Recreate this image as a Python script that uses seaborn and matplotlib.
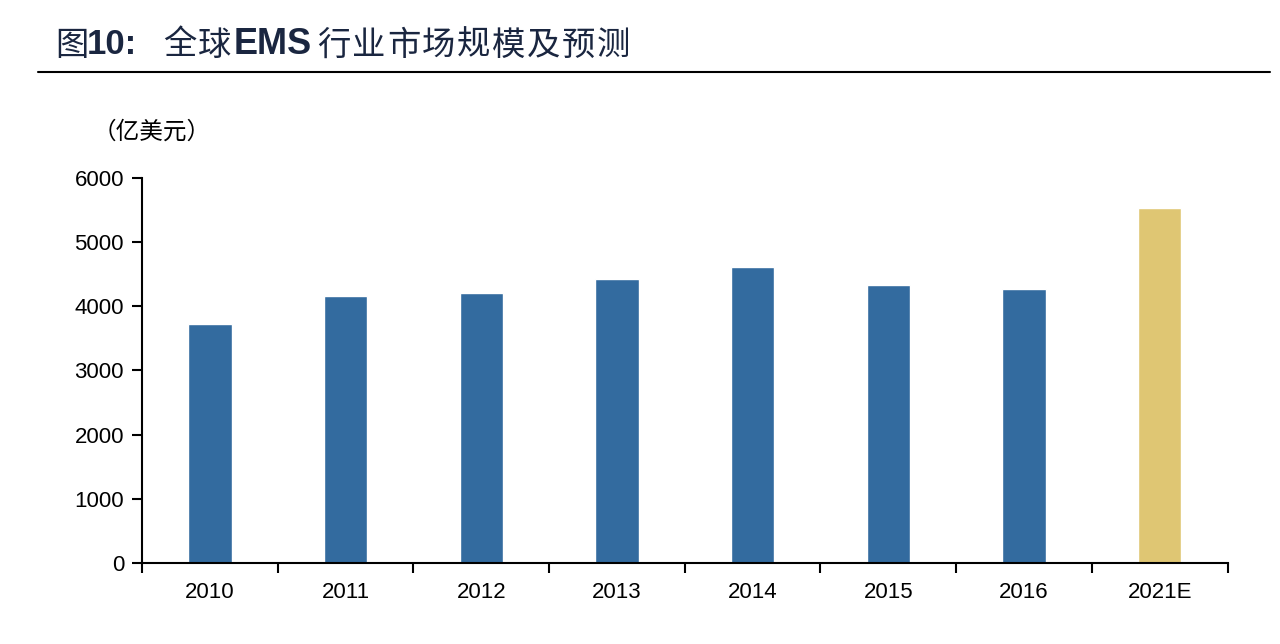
import matplotlib
matplotlib.use('Agg')
import matplotlib.pyplot as plt
import seaborn as sns
import pandas as pd
import numpy as np

years = ['2010', '2011', '2012', '2013', '2014', '2015', '2016', '2021E']
values = [3720, 4160, 4210, 4420, 4620, 4330, 4270, 5530]
kind = ['actual'] * 7 + ['forecast']

sns.set_theme(style='white')
plt.rcParams['font.family'] = ['Liberation Sans', 'Noto Sans CJK SC', 'DejaVu Sans']

df = pd.DataFrame({'year': years, 'value': values, 'kind': kind})

W, H = 1280, 644
fig = plt.figure(figsize=(W / 100, H / 100), dpi=100)
ax = fig.add_axes([0.111, 0.1258, 0.848, 0.5978])

sns.barplot(data=df, x='year', y='value', hue='kind',
            palette={'actual': '#336b9f', 'forecast': '#dfc673'},
            width=0.32, dodge=False, legend=False, ax=ax, saturation=1)

ax.set_ylim(0, 6000)
ax.set_xlim(-0.5, len(years) - 0.5)
ax.set_yticks(range(0, 6001, 1000))
ax.set_xlabel('')
ax.set_ylabel('')
for s in ['top', 'right']:
    ax.spines[s].set_visible(False)
for s in ['left', 'bottom']:
    ax.spines[s].set_color('black')
    ax.spines[s].set_linewidth(1.5)

ax.tick_params(axis='y', which='major', direction='out', length=7, width=1.5,
               color='black', labelsize=16, pad=6, left=True, labelcolor='black')
ax.tick_params(axis='x', which='major', length=0, labelsize=16, pad=14, labelcolor='black')
ax.set_xticks(np.arange(-0.5, len(years), 1.0), minor=True)
ax.tick_params(axis='x', which='minor', direction='out', length=7, width=1.5,
               color='black', bottom=True)

# title, placed piece by piece (CJK regular with wide spacing, latin bold)
navy = '#1a2640'
ty = 1 - 45 / H


def put(text, x0, pitch, size):
    for i, ch in enumerate(text):
        fig.text((x0 + i * pitch) / W, ty, ch, fontsize=size, family=['Noto Sans CJK SC'],
                 color=navy, va='center', ha='left')


put('图', 55, 35, 24)
fig.text(87 / W, ty, '10:', fontsize=25, fontweight='bold', family=['Liberation Sans'],
         color=navy, va='center', ha='left')
put('全球', 163, 35, 24)
fig.text(234 / W, ty, 'EMS', fontsize=26, fontweight='bold', family=['Liberation Sans'],
         color=navy, va='center', ha='left')
put('行业市场规模及预测', 317, 35, 24)

fig.add_artist(plt.Line2D([0.03, 0.992], [0.888, 0.888], color='black', lw=1.5,
                          transform=fig.transFigure))

fig.text(93 / W, 1 - 132 / H, '（亿美元）', fontsize=17, family=['Noto Sans CJK SC'],
         color='black', va='center')

fig.savefig('out.png', dpi=100)
